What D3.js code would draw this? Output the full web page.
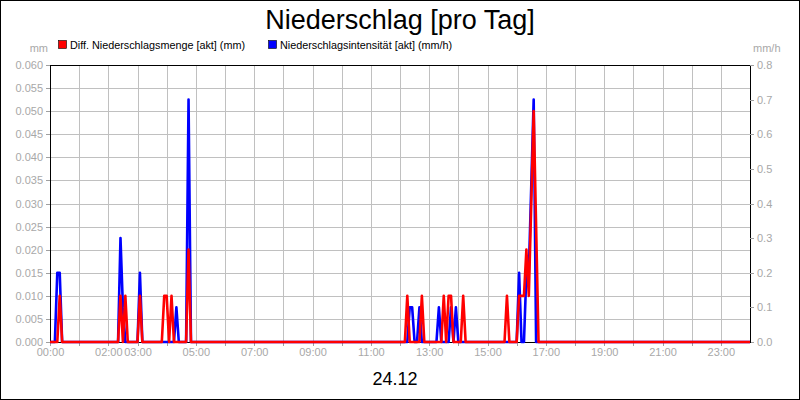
<!DOCTYPE html>
<html>
<head>
    <meta charset="utf-8">
    <style>
        body { margin: 0; background: #fff; }
        svg { display: block; font-family: "Liberation Sans", Arial, sans-serif; }
        .grid line { stroke: #c0c0c0; stroke-width: 1px; shape-rendering: crispEdges; }
        .axis path { stroke: #000; shape-rendering: crispEdges; }
        .axis line { stroke: #a0a0a0; shape-rendering: crispEdges; }
        .axis text { fill: #a8a8a8; font-size: 11px; }
        .unit { fill: #a8a8a8; font-size: 11px; }
        .legend text { fill: #000; font-size: 10.8px; }
        .series { fill: none; stroke-width: 2.6px; stroke-linejoin: round; }
    </style>
    <title>Niederschlag [pro Tag]</title>
    <script src="https://d3js.org/d3.v7.min.js"></script>
</head>
<body>
<script>
    // series 1: Diff. Niederschlagsmenge [akt] (mm), left axis
    var mengeTimes = ["00:00", "00:15", "00:20", "00:25",
        "02:20", "02:25", "02:30", "02:35", "02:40",
        "03:00", "03:05", "03:10",
        "03:50", "03:55", "04:00", "04:05", "04:10", "04:15",
        "04:40", "04:45", "04:50",
        "12:10", "12:15", "12:20",
        "12:40", "12:45", "12:50",
        "13:25", "13:30", "13:35", "13:40", "13:45", "13:50",
        "14:05", "14:10", "14:15",
        "15:35", "15:40", "15:45",
        "16:00", "16:05", "16:10", "16:15", "16:20", "16:25", "16:30", "16:35", "16:40", "16:45",
        "24:00"];
    var mengeValues = [0, 0, 0.01, 0,
        0, 0.01, 0, 0.01, 0,
        0, 0.01, 0,
        0, 0.01, 0.01, 0, 0.01, 0,
        0, 0.02, 0,
        0, 0.01, 0,
        0, 0.01, 0,
        0, 0.01, 0, 0.01, 0.01, 0,
        0, 0.01, 0,
        0, 0.01, 0,
        0, 0.01, 0.01, 0.01, 0.02, 0.01, 0.03, 0.05, 0.025, 0,
        0];

    // series 2: Niederschlagsintensität [akt] (mm/h), right axis
    var intensTimes = ["00:00", "00:10", "00:15", "00:20", "00:25",
        "02:20", "02:25", "02:30", "02:35",
        "03:00", "03:05", "03:10",
        "04:15", "04:20", "04:25",
        "04:40", "04:45", "04:50",
        "12:15", "12:20", "12:25", "12:30",
        "12:35", "12:40", "12:45",
        "13:15", "13:20", "13:25",
        "13:40", "13:45", "13:50", "13:55", "14:00",
        "16:00", "16:05", "16:10", "16:15", "16:20", "16:25", "16:30", "16:35", "16:40",
        "24:00"];
    var intensValues = [0, 0, 0.2, 0.2, 0,
        0, 0.3, 0.1, 0,
        0, 0.2, 0,
        0, 0.1, 0,
        0, 0.7, 0,
        0, 0.1, 0.1, 0,
        0, 0.1, 0,
        0, 0.1, 0,
        0, 0.1, 0, 0.1, 0,
        0, 0.2, 0, 0, 0.2, 0.2, 0.45, 0.7, 0,
        0];

    var leftTicks = [0, 0.005, 0.01, 0.015, 0.02, 0.025, 0.03, 0.035, 0.04, 0.045, 0.05, 0.055, 0.06];
    var rightTicks = [0, 0.1, 0.2, 0.3, 0.4, 0.5, 0.6, 0.7, 0.8];
    var labelHours = [0, 2, 3, 5, 7, 9, 11, 13, 15, 17, 19, 21, 23];

    var width = 800, height = 400;
    var plot = {left: 50, right: 750, top: 65, bottom: 342};

    // "HH:MM" -> minutes of day
    function toMin(s) {
      var p = s.split(":");
      return +p[0] * 60 + +p[1];
    }

    var menge = mengeTimes.map(function(t, i) { return {t: toMin(t), v: mengeValues[i]}; });
    var intens = intensTimes.map(function(t, i) { return {t: toMin(t), v: intensValues[i]}; });

    var x = d3.scaleLinear().domain([0, 1440]).range([plot.left, plot.right]);
    var yL = d3.scaleLinear().domain([0, 0.06]).range([plot.bottom, plot.top]);
    var yR = d3.scaleLinear().domain([0, 0.8]).range([plot.bottom, plot.top]);

    var svg = d3.select("body").append("svg")
        .attr("width", width)
        .attr("height", height);

    // white background + outer frame
    svg.append("rect")
        .attr("x", 0.5).attr("y", 0.5)
        .attr("width", width - 1).attr("height", height - 1)
        .attr("fill", "#fff")
        .attr("stroke", "#000");

    // title and date
    svg.append("text")
        .attr("x", 400).attr("y", 29)
        .attr("text-anchor", "middle")
        .style("font-size", "27px")
        .text("Niederschlag [pro Tag]");

    svg.append("text")
        .attr("x", 395).attr("y", 385)
        .attr("text-anchor", "middle")
        .style("font-size", "18px")
        .text("24.12");

    // grid
    var grid = svg.append("g").attr("class", "grid");
    grid.selectAll(".h")
        .data(leftTicks)
      .enter().append("line")
        .attr("x1", plot.left).attr("x2", plot.right)
        .attr("y1", function(d) { return Math.round(yL(d)) + 0.5; })
        .attr("y2", function(d) { return Math.round(yL(d)) + 0.5; });
    grid.selectAll(".v")
        .data(d3.range(0, 1441, 60))
      .enter().append("line")
        .attr("y1", plot.top).attr("y2", plot.bottom)
        .attr("x1", function(d) { return Math.round(x(d)) + 0.5; })
        .attr("x2", function(d) { return Math.round(x(d)) + 0.5; });

    // axes
    svg.append("g")
        .attr("class", "axis")
        .attr("transform", "translate(" + plot.left + ",0)")
        .call(d3.axisLeft(yL).tickValues(leftTicks).tickFormat(d3.format(".3f"))
          .tickSizeInner(4).tickSizeOuter(0).tickPadding(3));

    svg.append("g")
        .attr("class", "axis")
        .attr("transform", "translate(" + plot.right + ",0)")
        .call(d3.axisRight(yR).tickValues(rightTicks).tickFormat(d3.format(".1f"))
          .tickSizeInner(4).tickSizeOuter(0).tickPadding(3));

    svg.append("g")
        .attr("class", "axis")
        .attr("transform", "translate(0," + plot.bottom + ")")
        .call(d3.axisBottom(x).tickValues(d3.range(0, 1440, 60))
          .tickFormat(function(d) {
            var h = d / 60;
            return labelHours.indexOf(h) >= 0 ? (h < 10 ? "0" : "") + h + ":00" : "";
          })
          .tickSizeInner(4).tickSizeOuter(0).tickPadding(2));

    // top frame line
    svg.append("line")
        .attr("x1", plot.left).attr("x2", plot.right)
        .attr("y1", plot.top + 0.5).attr("y2", plot.top + 0.5)
        .attr("stroke", "#000");

    // unit labels
    svg.append("text").attr("class", "unit")
        .attr("x", 48).attr("y", 52).attr("text-anchor", "end").text("mm");
    svg.append("text").attr("class", "unit")
        .attr("x", 753).attr("y", 52).text("mm/h");

    // lines (intensity below, amount on top)
    var lineR = d3.line()
        .x(function(d) { return x(d.t); })
        .y(function(d) { return yR(d.v); });
    var lineL = d3.line()
        .x(function(d) { return x(d.t); })
        .y(function(d) { return yL(d.v); });

    svg.append("path")
        .datum(intens)
        .attr("class", "series")
        .attr("stroke", "#0000ff")
        .attr("d", lineR);

    svg.append("path")
        .datum(menge)
        .attr("class", "series")
        .attr("stroke", "#ff0000")
        .attr("d", lineL);

    // legend
    var legendItems = [
      {label: "Diff. Niederschlagsmenge [akt] (mm)", color: "#ff0000", x: 58},
      {label: "Niederschlagsintensität [akt] (mm/h)", color: "#0000ff", x: 268}
    ];
    var legend = svg.append("g").attr("class", "legend")
        .selectAll("g")
        .data(legendItems)
      .enter().append("g")
        .attr("transform", function(d) { return "translate(" + d.x + ",40)"; });
    legend.append("rect")
        .attr("x", 0.5).attr("y", 0.5)
        .attr("width", 8).attr("height", 8)
        .attr("fill", function(d) { return d.color; })
        .attr("stroke", "#000")
        .attr("stroke-width", 0.6);
    legend.append("text")
        .attr("x", 12).attr("y", 8.5)
        .text(function(d) { return d.label; });
</script>
</body>
</html>
